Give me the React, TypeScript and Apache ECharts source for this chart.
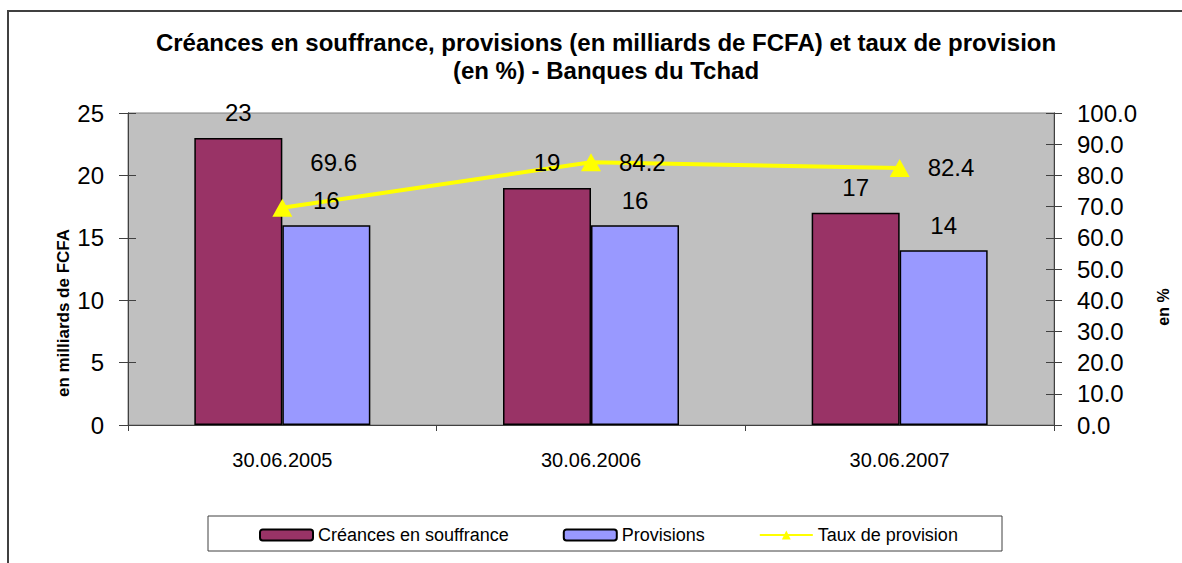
import React, { useEffect, useRef } from "react";
import * as echarts from "echarts";

const categories = ["30.06.2005", "30.06.2006", "30.06.2007"];
const creances = [23, 19, 17];
const provisions = [16, 16, 14];
const taux = [69.6, 84.2, 82.4];

const titleLines = [
  "Créances en souffrance, provisions (en milliards de FCFA) et taux de provision",
  "(en %) - Banques du Tchad",
];
const leftAxisName = "en milliards de FCFA";
const rightAxisName = "en %";

const FONT = 'Arial, "Liberation Sans", sans-serif';

export default function App() {
  const ref = useRef<HTMLDivElement>(null);
  useEffect(() => {
    document.body.style.margin = "0";
    const chart = echarts.init(ref.current!, undefined, { renderer: "svg" });
    const leftAxisBase = {
      type: "value",
      position: "left",
      min: 0,
      max: 25,
      interval: 5,
      splitLine: { show: false },
      axisLine: { show: true, lineStyle: { color: "#404040", width: 1 } },
    };
    const rightAxisBase = {
      type: "value",
      position: "right",
      min: 0,
      max: 100,
      interval: 10,
      splitLine: { show: false },
      axisLine: { show: true, lineStyle: { color: "#404040", width: 1 } },
    };
    const labelSeries = (data: number[], dx: number) => ({
      type: "scatter",
      yAxisIndex: 0,
      data,
      z: 10,
      silent: true,
      symbolSize: 0.1,
      itemStyle: { color: "rgba(0,0,0,0)", opacity: 1 },
      tooltip: { show: false },
      label: {
        show: true,
        position: "top",
        distance: 13,
        offset: [dx, 0],
        fontSize: 24,
        color: "#000",
        opacity: 1,
        fontFamily: FONT,
      },
    });
    chart.setOption({
      animation: false,
      textStyle: { fontFamily: FONT },
      title: {
        text: titleLines.join("\n"),
        left: 601,
        top: 23,
        textAlign: "center",
        textStyle: {
          fontFamily: FONT,
          fontSize: 24,
          fontWeight: "bold",
          color: "#000",
          lineHeight: 28,
        },
      },
      grid: {
        left: 128,
        right: 128,
        top: 113,
        height: 312,
        show: true,
        backgroundColor: "#C0C0C0",
        borderColor: "#808080",
        borderWidth: 1,
      },
      legend: {
        left: 254,
        top: 521,
        itemWidth: 53,
        itemHeight: 11,
        itemGap: 54,
        textStyle: { fontFamily: FONT, fontSize: 18, color: "#000" },
        data: ["Créances en souffrance", "Provisions", "Taux de provision"],
      },
      xAxis: {
        type: "category",
        data: categories,
        axisLine: { show: true, lineStyle: { color: "#404040" } },
        axisTick: { show: true, length: 6, lineStyle: { color: "#404040" } },
        axisLabel: { fontSize: 20, color: "#000", margin: 25, fontFamily: FONT },
      },
      yAxis: [
        {
          ...leftAxisBase,
          axisTick: { show: true, inside: false, length: 9, lineStyle: { color: "#404040" } },
          axisLabel: { fontSize: 24, color: "#000", margin: 24, fontFamily: FONT },
        },
        {
          ...rightAxisBase,
          axisTick: { show: true, inside: false, length: 8, lineStyle: { color: "#404040" } },
          axisLabel: {
            fontSize: 24,
            color: "#000",
            margin: 23,
            fontFamily: FONT,
            formatter: (v: number) => v.toFixed(1),
          },
        },
        {
          ...leftAxisBase,
          axisTick: { show: true, inside: true, length: 8, lineStyle: { color: "#404040" } },
          axisLabel: { show: false },
        },
        {
          ...rightAxisBase,
          axisTick: { show: true, inside: true, length: 8, lineStyle: { color: "#404040" } },
          axisLabel: { show: false },
        },
      ],
      series: [
        {
          name: "Créances en souffrance",
          type: "bar",
          yAxisIndex: 0,
          data: creances,
          barWidth: 88,
          barGap: "0%",
          itemStyle: { color: "#993366", borderColor: "#000", borderWidth: 1.5 },
        },
        {
          name: "Provisions",
          type: "bar",
          yAxisIndex: 0,
          data: provisions,
          barWidth: 88,
          barGap: "0%",
          itemStyle: { color: "#9999FF", borderColor: "#000", borderWidth: 1.5 },
        },
        {
          name: "Taux de provision",
          type: "line",
          yAxisIndex: 1,
          z: 5,
          data: taux.map((v, i) =>
            i === 0 ? { value: v, label: { offset: [0, -45] } } : { value: v }
          ),
          symbol: "triangle",
          symbolSize: [20, 18],
          lineStyle: { color: "#FFFF00", width: 4 },
          itemStyle: { color: "#FFFF00" },
          label: {
            show: true,
            position: "right",
            distance: 18,
            fontSize: 24,
            color: "#000",
            fontFamily: FONT,
            formatter: (p: any) => Number(p.value).toFixed(1),
          },
        },
        labelSeries(creances, -44),
        labelSeries(provisions, 44),
      ],
      graphic: [
        {
          type: "rect",
          shape: { x: 8, y: 11, width: 1200, height: 600 },
          style: { fill: "none", stroke: "#404040", lineWidth: 2 },
          silent: true,
          z: -10,
        },
        {
          type: "rect",
          shape: { x: 208, y: 516, width: 794, height: 35 },
          style: { fill: "none", stroke: "#404040", lineWidth: 1 },
          silent: true,
        },
        {
          type: "text",
          x: 63,
          y: 313,
          rotation: Math.PI / 2,
          style: {
            text: leftAxisName,
            fontFamily: FONT,
            fontSize: 17,
            fontWeight: "bold",
            fill: "#000",
            align: "center",
            verticalAlign: "middle",
          },
        },
        {
          type: "text",
          x: 1163,
          y: 307,
          rotation: Math.PI / 2,
          style: {
            text: rightAxisName,
            fontFamily: FONT,
            fontSize: 16,
            fontWeight: "bold",
            fill: "#000",
            align: "center",
            verticalAlign: "middle",
          },
        },
      ],
    });
    return () => chart.dispose();
  }, []);
  return <div ref={ref} style={{ width: 1182, height: 563 }} />;
}
